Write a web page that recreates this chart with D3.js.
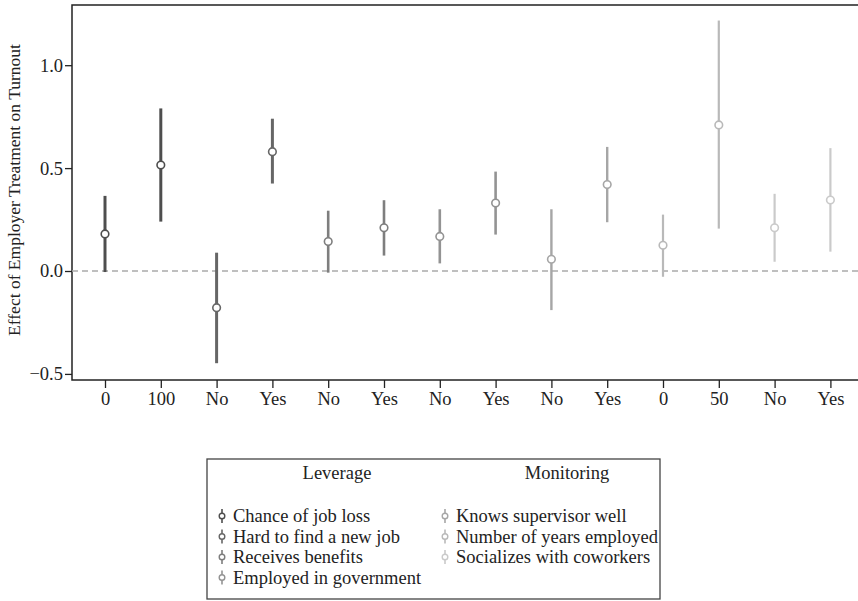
<!DOCTYPE html>
<meta charset="utf-8">
<head>
<script src="https://d3js.org/d3.v7.min.js"></script>
<style>
  body { margin: 0; background: #fff; }
  svg text { font-family: "Liberation Serif", serif; fill: #222; }
  .axis text { font-size: 18.5px; }
  .axis path { display: none; }
  .axis line { stroke: #222; stroke-width: 1.3; }
</style>
</head>
<body>
<script>

// tick labels along the x axis, one per estimate
var tickLabels = ["0", "100", "No", "Yes", "No", "Yes", "No", "Yes", "No", "Yes", "0", "50", "No", "Yes"];

// which series each estimate belongs to
var seriesIndex = [0, 0, 1, 1, 2, 2, 3, 3, 4, 4, 5, 5, 6, 6];

// point estimates and 95% interval ends
var estimates = [0.18, 0.515, -0.178, 0.58, 0.143, 0.21, 0.168, 0.33, 0.057, 0.42, 0.125, 0.71, 0.21, 0.345];
var lowerCI   = [-0.005, 0.24, -0.448, 0.425, -0.008, 0.075, 0.037, 0.177, -0.19, 0.237, -0.028, 0.206, 0.045, 0.094];
var upperCI   = [0.365, 0.79, 0.089, 0.74, 0.293, 0.344, 0.30, 0.483, 0.30, 0.603, 0.274, 1.217, 0.375, 0.597];

var seriesNames = ["Chance of job loss", "Hard to find a new job", "Receives benefits", "Employed in government",
                   "Knows supervisor well", "Number of years employed", "Socializes with coworkers"];
var seriesColors = ["#4e4e4e", "#666666", "#7e7e7e", "#939393", "#a6a6a6", "#b9b9b9", "#cacaca"];
var seriesWidths = [3, 3, 2.6, 2.6, 2.4, 2.2, 2.2];

var groupTitles = ["Leverage", "Monitoring"];
var groupMembers = [[0, 1, 2, 3], [4, 5, 6]];

var yTicks = [-0.5, 0, 0.5, 1.0];

var width = 858, height = 601;

var svg = d3.select("body").append("svg")
    .attr("width", width)
    .attr("height", height);

// scales
var x = d3.scalePoint()
    .domain(d3.range(tickLabels.length))
    .range([105, 830.4]);

var y = d3.scaleLinear()
    .domain([-0.5296, 1.2925])
    .range([380, 5]);

// plot frame (right side runs off the picture)
svg.append("rect")
    .attr("x", 72).attr("y", 5)
    .attr("width", 820).attr("height", 375)
    .attr("fill", "none")
    .attr("stroke", "#222")
    .attr("stroke-width", 1.5);

// zero reference line
svg.append("line")
    .attr("x1", 72).attr("x2", width)
    .attr("y1", y(0)).attr("y2", y(0))
    .attr("stroke", "#aaa")
    .attr("stroke-width", 1.3)
    .attr("stroke-dasharray", "6,4");

// axes
svg.append("g")
    .attr("class", "axis")
    .attr("transform", "translate(0,380)")
    .call(d3.axisBottom(x).tickSize(8).tickPadding(4)
      .tickFormat(function(i) { return tickLabels[i]; }));

svg.append("g")
    .attr("class", "axis")
    .attr("transform", "translate(72,0)")
    .call(d3.axisLeft(y).tickValues(yTicks).tickSize(7).tickPadding(2)
      .tickFormat(d3.format(".1f")));

// y axis title
svg.append("text")
    .attr("transform", "translate(20,190) rotate(-90)")
    .style("text-anchor", "middle")
    .style("font-size", "17.5px")
    .text("Effect of Employer Treatment on Turnout");

// error bars
var rows = d3.range(estimates.length);

svg.selectAll(".ci")
    .data(rows)
  .enter().append("line")
    .attr("class", "ci")
    .attr("x1", function(i) { return x(i); })
    .attr("x2", function(i) { return x(i); })
    .attr("y1", function(i) { return y(lowerCI[i]); })
    .attr("y2", function(i) { return y(upperCI[i]); })
    .attr("stroke", function(i) { return seriesColors[seriesIndex[i]]; })
    .attr("stroke-width", function(i) { return seriesWidths[seriesIndex[i]]; });

svg.selectAll(".pt")
    .data(rows)
  .enter().append("circle")
    .attr("class", "pt")
    .attr("cx", function(i) { return x(i); })
    .attr("cy", function(i) { return y(estimates[i]); })
    .attr("r", 3.8)
    .attr("fill", "#fff")
    .attr("stroke", function(i) { return seriesColors[seriesIndex[i]]; })
    .attr("stroke-width", 1.6);

// legend
var legend = svg.append("g");

legend.append("rect")
    .attr("x", 207).attr("y", 459)
    .attr("width", 453).attr("height", 140)
    .attr("fill", "none")
    .attr("stroke", "#444")
    .attr("stroke-width", 1.3);

var colX = [222, 445];
var titleX = [337, 567];

groupTitles.forEach(function(t, g) {
  legend.append("text")
      .attr("x", titleX[g]).attr("y", 479)
      .style("text-anchor", "middle")
      .style("font-size", "18.5px")
      .text(t);

  groupMembers[g].forEach(function(s, k) {
    var cy = 516 + k * 20.5;
    var item = legend.append("g");
    item.append("line")
        .attr("x1", colX[g]).attr("x2", colX[g])
        .attr("y1", cy - 7).attr("y2", cy + 7)
        .attr("stroke", seriesColors[s])
        .attr("stroke-width", 1.6);
    item.append("circle")
        .attr("cx", colX[g]).attr("cy", cy)
        .attr("r", 2.8)
        .attr("fill", "#fff")
        .attr("stroke", seriesColors[s])
        .attr("stroke-width", 1.4);
    item.append("text")
        .attr("x", colX[g] + 11).attr("y", cy + 6)
        .style("font-size", "18.5px")
        .text(seriesNames[s]);
  });
});

</script>
</body>
